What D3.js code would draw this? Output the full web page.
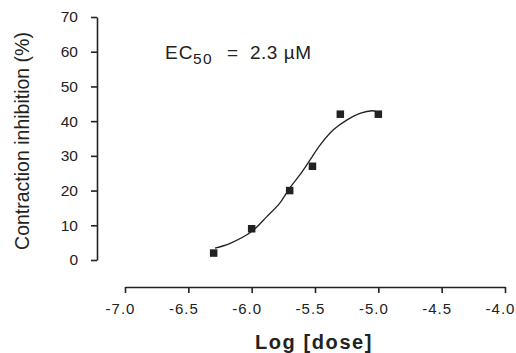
<!DOCTYPE html>
<html>
<head>
<meta charset="utf-8">
<script src="https://cdn.jsdelivr.net/npm/d3@7"></script>
<style>
  body { margin: 0; background: #fff; }
  svg text { font-family: "Liberation Sans", Arial, sans-serif; fill: #222; }
</style>
</head>
<body>
<svg id="chart"></svg>
<script>
"use strict";

// measured points
let doseLog = [-6.3, -6.0, -5.7, -5.52, -5.3, -5.0];
let inhibition = [2, 9, 20, 27, 42, 42];

// fitted curve
let curveX = [-6.29, -6.17, -6.0, -5.88, -5.78, -5.70, -5.62, -5.54, -5.46, -5.355, -5.25, -5.14, -5.05, -5.02];
let curveY = [3.4, 4.8, 8.2, 12.5, 16.3, 20.7, 24.5, 28.8, 33.1, 37.5, 40.3, 42.3, 43.0, 42.8];

let xTicks = [-7.0, -6.5, -6.0, -5.5, -5.0, -4.5, -4.0];
let yTicks = [0, 10, 20, 30, 40, 50, 60, 70];

let width = 516, height = 353;
let ink = '#222';

let svg = d3.select('svg#chart')
  .attr('width', width)
  .attr('height', height);

let xScale = d3.scaleLinear().domain([-7, -4]).range([125, 505]);
let yScale = d3.scaleLinear().domain([0, 70]).range([260, 17]);

/* y axis */
let yAxis = svg.append('g')
  .attr('transform', 'translate(97,0)')
  .call(d3.axisLeft(yScale).tickValues(yTicks).tickSize(6).tickSizeOuter(0).tickPadding(13));
yAxis.select('.domain').attr('stroke', ink).attr('stroke-width', 1.6);
yAxis.selectAll('.tick line').attr('stroke', ink).attr('stroke-width', 1.6);
yAxis.selectAll('.tick text')
  .attr('font-size', '15.5px')
  .attr('font-family', '"Liberation Sans", Arial, sans-serif')
  .attr('fill', ink);

/* x axis, offset below the plot */
let xAxis = svg.append('g')
  .attr('transform', 'translate(0,287)')
  .call(d3.axisBottom(xScale).tickValues(xTicks).tickSize(6).tickSizeOuter(0).tickPadding(10));
xAxis.select('.domain').attr('stroke', ink).attr('stroke-width', 1.6);
xAxis.selectAll('.tick line').attr('stroke', ink).attr('stroke-width', 1.6);
xAxis.selectAll('.tick text')
  .attr('font-size', '15px')
  .attr('letter-spacing', '1px')
  .attr('dx', -5)
  .attr('font-family', '"Liberation Sans", Arial, sans-serif')
  .attr('fill', ink)
  .text(d => '-' + d3.format('.1f')(Math.abs(d)));

/* fitted curve */
let line = d3.line()
  .x(d => xScale(d[0]))
  .y(d => yScale(d[1]))
  .curve(d3.curveCatmullRom);
svg.append('path')
  .datum(curveX.map((x, i) => [x, curveY[i]]))
  .attr('d', line)
  .attr('fill', 'none')
  .attr('stroke', ink)
  .attr('stroke-width', 1.3);

/* data points */
let sq = 7.5;
svg.selectAll('rect.pt')
  .data(doseLog)
  .enter()
  .append('rect')
  .attr('class', 'pt')
  .attr('x', d => xScale(d) - sq / 2)
  .attr('y', (d, i) => yScale(inhibition[i]) - sq / 2)
  .attr('width', sq)
  .attr('height', sq)
  .attr('fill', ink);

/* EC50 label */
let ec = svg.append('text')
  .attr('y', 59)
  .attr('font-size', '19px');
ec.append('tspan').attr('x', 165).attr('letter-spacing', '1px').text('EC');
ec.append('tspan').attr('x', 193).attr('dy', 5).attr('font-size', '15.5px').attr('letter-spacing', '1.5px').text('50');
ec.append('tspan').attr('x', 227).attr('dy', -5).text('=');
ec.append('tspan').attr('x', 250).attr('letter-spacing', '0.5px').text('2.3 \u00b5M');

/* axis titles */
svg.append('text')
  .attr('transform', 'translate(28.5,141) rotate(-90)')
  .attr('text-anchor', 'middle')
  .attr('font-size', '19.5px')
  .text('Contraction inhibition (%)');

svg.append('text')
  .attr('x', 314)
  .attr('y', 349)
  .attr('text-anchor', 'middle')
  .attr('font-size', '20px')
  .attr('font-weight', 'bold')
  .attr('letter-spacing', '1.6px')
  .text('Log [dose]');
</script>
</body>
</html>
